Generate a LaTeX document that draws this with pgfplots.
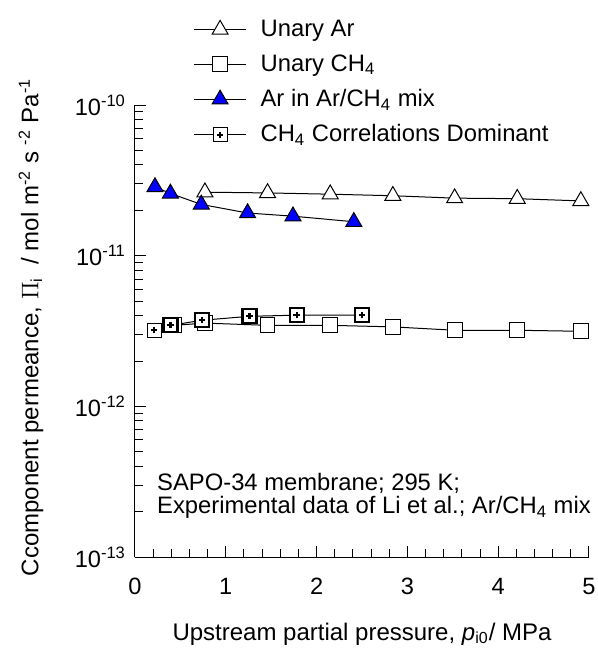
\documentclass[border=0pt]{standalone}
\usepackage{fontspec}
\setmainfont{Liberation Sans}
\usepackage{pgfplots}
\pgfplotsset{compat=1.18}

% open square with a bold plus inside
\pgfdeclareplotmark{boxplus}{%
  \pgfpathrectangle{\pgfqpoint{-\pgfplotmarksize}{-\pgfplotmarksize}}{\pgfqpoint{2\pgfplotmarksize}{2\pgfplotmarksize}}%
  \pgfusepathqfillstroke
  \pgfsetlinewidth{1.1pt}%
  \pgfpathmoveto{\pgfqpoint{-0.45\pgfplotmarksize}{0pt}}%
  \pgfpathlineto{\pgfqpoint{0.45\pgfplotmarksize}{0pt}}%
  \pgfpathmoveto{\pgfqpoint{0pt}{-0.45\pgfplotmarksize}}%
  \pgfpathlineto{\pgfqpoint{0pt}{0.45\pgfplotmarksize}}%
  \pgfusepathqstroke
}

\definecolor{markblue}{RGB}{0,0,255}

\begin{document}
\begin{tikzpicture}
\begin{axis}[
  scale only axis,
  width=227pt, height=226pt,
  xmin=0, xmax=5,
  ymode=log, ymin=1e-13, ymax=1e-10,
  axis lines=left, axis line style={-, line width=0.5pt},
  tick align=inside,
  tick style={black, line width=0.5pt},
  major tick length=5.5pt, minor tick length=3.8pt,
  xtick={0,1,2,3,4,5}, minor x tick num=4,
  ytick={1e-13,1e-12,1e-11,1e-10},
  yticklabels={10\textsuperscript{-13},10\textsuperscript{-12},10\textsuperscript{-11},10\textsuperscript{-10}},
  minor ytick={2e-13,3e-13,4e-13,5e-13,6e-13,7e-13,8e-13,9e-13,
               2e-12,3e-12,4e-12,5e-12,6e-12,7e-12,8e-12,9e-12,
               2e-11,3e-11,4e-11,5e-11,6e-11,7e-11,8e-11,9e-11},
  /pgf/number format/assume math mode=true,
  ticklabel style={font=\fontsize{11.8}{13.5}\selectfont},
  xticklabel style={yshift=-7pt},
  yticklabel style={xshift=-1pt},
  every axis x label/.style={at={(axis description cs:0.5,-0.170)}, anchor=center},
  every axis y label/.style={at={(axis description cs:-0.229,0.508)}, rotate=90, anchor=center},
  label style={font=\fontsize{12}{14}\selectfont},
  xlabel={Upstream partial pressure, \textit{p}\textsubscript{i0}/ MPa},
  ylabel={Ccomponent permeance, $\Pi$\textsubscript{i}\ \ / mol m\textsuperscript{-2} s \textsuperscript{-2} Pa\textsuperscript{-1}},
  clip=false,
  legend style={draw=none, fill=none, at={(0.115,1.207)}, anchor=north west,
    font=\fontsize{11.9}{13.5}\selectfont, row sep=3.6pt, column sep=5pt},
  legend cell align=left,
  legend image code/.code={\draw[mark repeat=2,mark phase=2] plot coordinates {(0pt,0pt)(13pt,0pt)(26pt,0pt)};},
]
\coordinate (o) at (rel axis cs:0,0);

% Unary Ar
\addplot[black, line width=0.5pt, mark=triangle*, mark size=4.6pt,
  mark options={fill=white, draw=black, line width=0.5pt}] coordinates {
  (0.77,2.64e-11) (1.46,2.61e-11) (2.15,2.56e-11) (2.84,2.50e-11)
  (3.52,2.41e-11) (4.21,2.39e-11) (4.91,2.31e-11)
};
\addlegendentry{Unary Ar}

% Unary CH4
\addplot[black, line width=0.5pt, mark=square*, mark size=3.7pt,
  mark options={fill=white, draw=black, line width=0.5pt}] coordinates {
  (0.43,3.45e-12) (0.77,3.57e-12) (1.46,3.45e-12) (2.15,3.45e-12)
  (2.84,3.37e-12) (3.52,3.20e-12) (4.21,3.20e-12) (4.91,3.15e-12)
};
\addlegendentry{Unary CH\textsubscript{4}}

% Ar in the binary mixture
\addplot[black, line width=0.5pt, mark=triangle*, mark size=4.6pt,
  mark options={fill=markblue, draw=black, line width=0.5pt}] coordinates {
  (0.22,2.86e-11) (0.39,2.59e-11) (0.73,2.19e-11) (1.24,1.92e-11)
  (1.74,1.83e-11) (2.41,1.68e-11)
};
\addlegendentry{Ar in Ar/CH\textsubscript{4} mix}

% CH4 in the mixture, correlations dominant
\addplot[black, line width=0.5pt, mark=boxplus, mark size=3.5pt,
  mark options={fill=white, draw=black, line width=0.5pt}] coordinates {
  (0.21,3.20e-12) (0.39,3.45e-12) (0.74,3.73e-12) (1.26,3.96e-12)
  (1.78,4.03e-12) (2.50,4.03e-12)
};
\addlegendentry{CH\textsubscript{4} Correlations Dominant}

\node[anchor=north west, align=left, inner sep=0pt,
  font=\fontsize{11.9}{11.5}\selectfont] at (axis description cs:0.048,0.186)
  {SAPO-34 membrane; 295 K;\\Experimental data of Li et al.; Ar/CH\textsubscript{4} mix};
\end{axis}
\pgfresetboundingbox
\path[use as bounding box] ([shift={(-67.5pt,-46pt)}]o) rectangle ++(299pt,324.5pt);
\end{tikzpicture}
\end{document}
